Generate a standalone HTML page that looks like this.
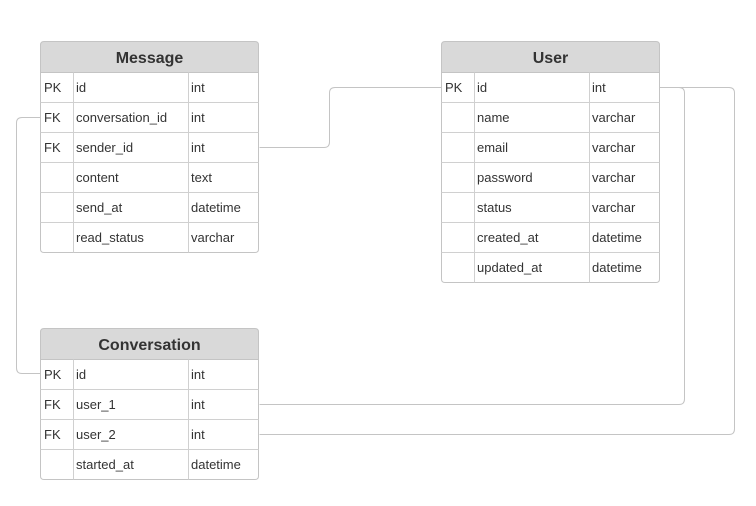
<!DOCTYPE html>
<html><head><meta charset="utf-8"><style>
html,body{margin:0;padding:0;background:#fff;}
svg{display:block;}
text{font-family:"Liberation Sans",Arial,sans-serif;fill:#333;}
.t{font-size:13px;}
.h{font-size:16px;font-weight:bold;}
</style></head><body>
<svg width="756" height="506" viewBox="0 0 756 506" xmlns="http://www.w3.org/2000/svg">
<g fill="none" stroke="#c4c4c4" stroke-width="1">
<path d="M259.5 147.5 H324 Q329.5 147.5 329.5 142 V93 Q329.5 87.5 335 87.5 H441"/>
<path d="M40 117.5 H22 Q16.5 117.5 16.5 123 V368 Q16.5 373.5 22 373.5 H40"/>
<path d="M259.5 404.5 H679 Q684.5 404.5 684.5 399 V93 Q684.5 87.5 679 87.5 H660"/>
<path d="M259.5 434.5 H729 Q734.5 434.5 734.5 429 V93 Q734.5 87.5 729 87.5 H660"/>
</g>
<!-- Message -->
<g>
<path d="M40.5 72.5 V45 Q40.5 41.5 44 41.5 H255 Q258.5 41.5 258.5 45 V72.5 Z" fill="#d9d9d9" stroke="#c4c4c4"/>
<path d="M40.5 72.5 V249 Q40.5 252.5 44 252.5 H255 Q258.5 252.5 258.5 249 V72.5 Z" fill="#fff" stroke="#c4c4c4"/>
<g stroke="#d0d0d0"><line x1="40.5" y1="102.5" x2="258.5" y2="102.5"/><line x1="40.5" y1="132.5" x2="258.5" y2="132.5"/><line x1="40.5" y1="162.5" x2="258.5" y2="162.5"/><line x1="40.5" y1="192.5" x2="258.5" y2="192.5"/><line x1="40.5" y1="222.5" x2="258.5" y2="222.5"/><line x1="73.5" y1="72.5" x2="73.5" y2="252.5"/><line x1="188.5" y1="72.5" x2="188.5" y2="252.5"/></g>
<text class="h" x="149.5" y="63" text-anchor="middle">Message</text>
<text class="t" x="44" y="92">PK</text><text class="t" x="76" y="92">id</text><text class="t" x="191" y="92">int</text>
<text class="t" x="44" y="122">FK</text><text class="t" x="76" y="122">conversation_id</text><text class="t" x="191" y="122">int</text>
<text class="t" x="44" y="152">FK</text><text class="t" x="76" y="152">sender_id</text><text class="t" x="191" y="152">int</text>
<text class="t" x="76" y="182">content</text><text class="t" x="191" y="182">text</text>
<text class="t" x="76" y="212">send_at</text><text class="t" x="191" y="212">datetime</text>
<text class="t" x="76" y="242">read_status</text><text class="t" x="191" y="242">varchar</text>
</g>
<!-- User -->
<g>
<path d="M441.5 72.5 V45 Q441.5 41.5 445 41.5 H656 Q659.5 41.5 659.5 45 V72.5 Z" fill="#d9d9d9" stroke="#c4c4c4"/>
<path d="M441.5 72.5 V279 Q441.5 282.5 445 282.5 H656 Q659.5 282.5 659.5 279 V72.5 Z" fill="#fff" stroke="#c4c4c4"/>
<g stroke="#d0d0d0"><line x1="441.5" y1="102.5" x2="659.5" y2="102.5"/><line x1="441.5" y1="132.5" x2="659.5" y2="132.5"/><line x1="441.5" y1="162.5" x2="659.5" y2="162.5"/><line x1="441.5" y1="192.5" x2="659.5" y2="192.5"/><line x1="441.5" y1="222.5" x2="659.5" y2="222.5"/><line x1="441.5" y1="252.5" x2="659.5" y2="252.5"/><line x1="474.5" y1="72.5" x2="474.5" y2="282.5"/><line x1="589.5" y1="72.5" x2="589.5" y2="282.5"/></g>
<text class="h" x="550.5" y="63" text-anchor="middle">User</text>
<text class="t" x="445" y="92">PK</text><text class="t" x="477" y="92">id</text><text class="t" x="592" y="92">int</text>
<text class="t" x="477" y="122">name</text><text class="t" x="592" y="122">varchar</text>
<text class="t" x="477" y="152">email</text><text class="t" x="592" y="152">varchar</text>
<text class="t" x="477" y="182">password</text><text class="t" x="592" y="182">varchar</text>
<text class="t" x="477" y="212">status</text><text class="t" x="592" y="212">varchar</text>
<text class="t" x="477" y="242">created_at</text><text class="t" x="592" y="242">datetime</text>
<text class="t" x="477" y="272">updated_at</text><text class="t" x="592" y="272">datetime</text>
</g>
<!-- Conversation -->
<g>
<path d="M40.5 359.5 V332 Q40.5 328.5 44 328.5 H255 Q258.5 328.5 258.5 332 V359.5 Z" fill="#d9d9d9" stroke="#c4c4c4"/>
<path d="M40.5 359.5 V476 Q40.5 479.5 44 479.5 H255 Q258.5 479.5 258.5 476 V359.5 Z" fill="#fff" stroke="#c4c4c4"/>
<g stroke="#d0d0d0"><line x1="40.5" y1="389.5" x2="258.5" y2="389.5"/><line x1="40.5" y1="419.5" x2="258.5" y2="419.5"/><line x1="40.5" y1="449.5" x2="258.5" y2="449.5"/><line x1="73.5" y1="359.5" x2="73.5" y2="479.5"/><line x1="188.5" y1="359.5" x2="188.5" y2="479.5"/></g>
<text class="h" x="149.5" y="350" text-anchor="middle">Conversation</text>
<text class="t" x="44" y="379">PK</text><text class="t" x="76" y="379">id</text><text class="t" x="191" y="379">int</text>
<text class="t" x="44" y="409">FK</text><text class="t" x="76" y="409">user_1</text><text class="t" x="191" y="409">int</text>
<text class="t" x="44" y="439">FK</text><text class="t" x="76" y="439">user_2</text><text class="t" x="191" y="439">int</text>
<text class="t" x="76" y="469">started_at</text><text class="t" x="191" y="469">datetime</text>
</g>
</svg>
</body></html>
